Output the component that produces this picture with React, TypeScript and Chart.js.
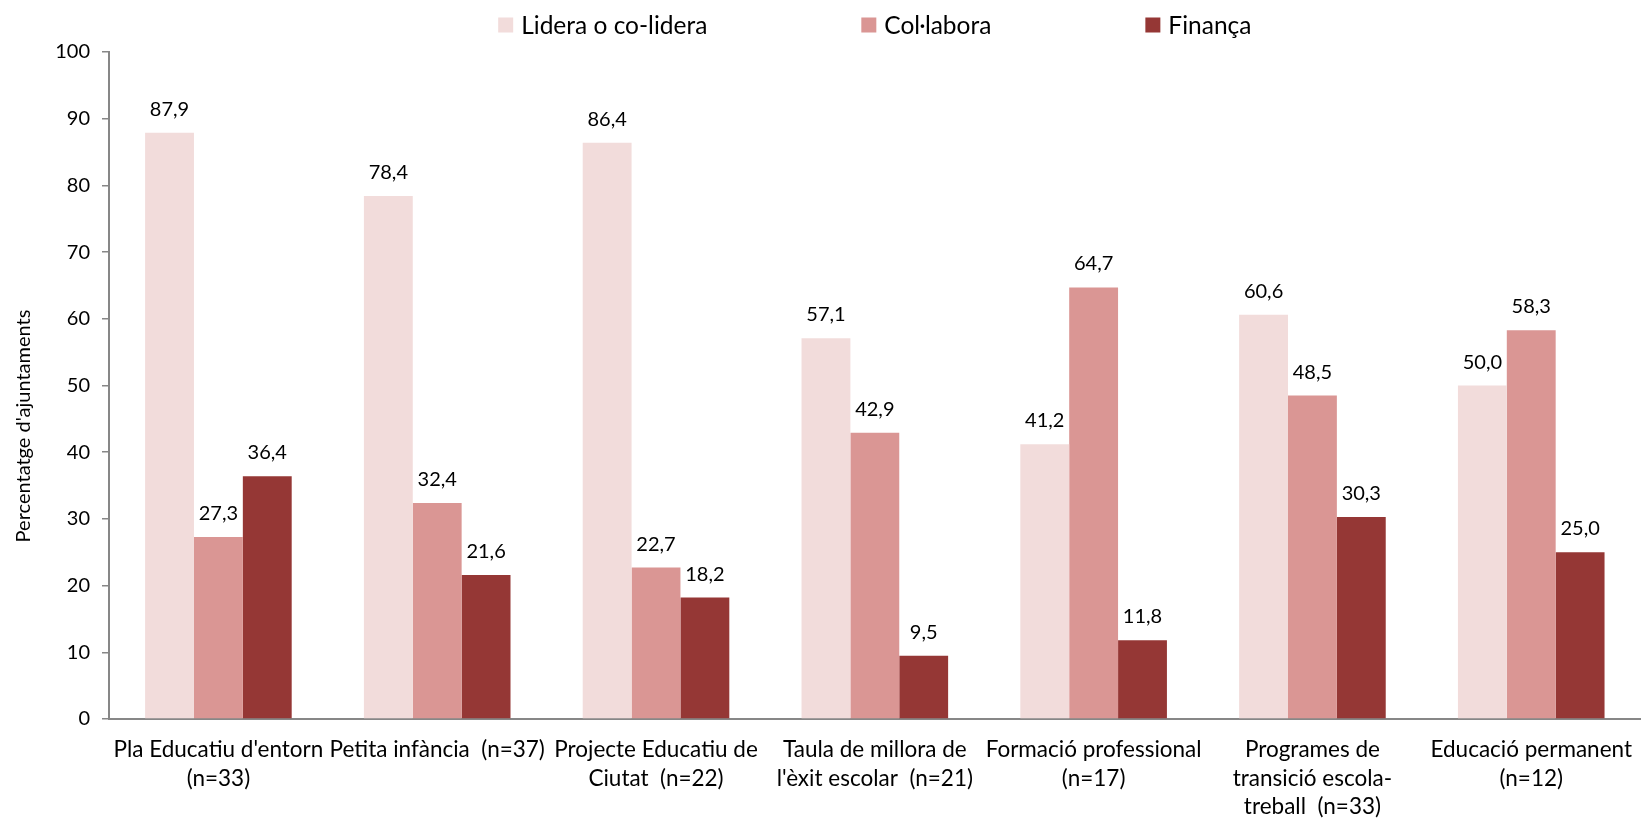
import React, { useEffect, useRef } from "react";
import { Chart, registerables } from "chart.js";

Chart.register(...registerables);

const categories: string[][] = [
  ["Pla Educatiu d'entorn", "(n=33)"],
  ["Petita infància  (n=37)"],
  ["Projecte Educatiu de", "Ciutat  (n=22)"],
  ["Taula de millora de", "l'èxit escolar  (n=21)"],
  ["Formació professional", "(n=17)"],
  ["Programes de", "transició escola-", "treball  (n=33)"],
  ["Educació permanent", "(n=12)"],
];
const seriesNames = ["Lidera o co-lidera", "Col·labora", "Finança"];
const lideraValues = [87.9, 78.4, 86.4, 57.1, 41.2, 60.6, 50.0];
const colaboraValues = [27.3, 32.4, 22.7, 42.9, 64.7, 48.5, 58.3];
const financaValues = [36.4, 21.6, 18.2, 9.5, 11.8, 30.3, 25.0];
const yMin = 0;
const yMax = 100;
const yStep = 10;
const yAxisTitle = "Percentatge d'ajuntaments";

const seriesColors = ["#F2DCDB", "#DA9694", "#953735"];
const FONT = "Lato, 'Open Sans', sans-serif";
const AXIS_GRAY = "#878787";

const formatValue = (v: number) => v.toFixed(1).replace(".", ",");

const dataLabelsPlugin = {
  id: "dataLabels",
  afterDatasetsDraw(chart: any) {
    const ctx = chart.ctx;
    ctx.save();
    ctx.font = `20px ${FONT}`;
    ctx.fillStyle = "#000";
    ctx.textAlign = "center";
    ctx.textBaseline = "alphabetic";
    chart.data.datasets.forEach((ds: any, di: number) => {
      const meta = chart.getDatasetMeta(di);
      meta.data.forEach((el: any, i: number) => {
        ctx.fillText(formatValue(ds.data[i]), el.x, el.y - 17);
      });
    });
    ctx.restore();
  },
};

const legendPlugin = {
  id: "customLegend",
  afterDraw(chart: any) {
    const ctx = chart.ctx;
    const area = chart.chartArea;
    ctx.save();
    ctx.font = `24.5px ${FONT}`;
    ctx.textBaseline = "middle";
    ctx.textAlign = "left";
    const box = 15;
    const gapBoxText = 8;
    const gapItems = 154;
    const items = chart.data.datasets.map((ds: any) => ({
      label: ds.label,
      color: ds.backgroundColor,
      w: box + gapBoxText + ctx.measureText(ds.label).width,
    }));
    const total =
      items.reduce((s: number, it: any) => s + it.w, 0) + gapItems * (items.length - 1);
    let x = (area.left + Math.min(area.right, chart.width)) / 2 - total / 2;
    const cy = 25;
    items.forEach((it: any) => {
      ctx.fillStyle = it.color;
      ctx.fillRect(x, cy - box / 2, box, box);
      ctx.fillStyle = "#000";
      ctx.fillText(it.label, x + box + gapBoxText, cy + 1);
      x += it.w + gapItems;
    });
    ctx.restore();
  },
};

const yTitlePlugin = {
  id: "yTitle",
  afterDraw(chart: any) {
    const ctx = chart.ctx;
    const area = chart.chartArea;
    ctx.save();
    ctx.font = `20px ${FONT}`;
    ctx.fillStyle = "#000";
    ctx.textAlign = "center";
    ctx.textBaseline = "middle";
    ctx.translate(24, area.top + 374);
    ctx.rotate(-Math.PI / 2);
    ctx.fillText(yAxisTitle, 0, 0);
    ctx.restore();
  },
};

export default function App() {
  const canvasRef = useRef<HTMLCanvasElement | null>(null);

  useEffect(() => {
    document.body.style.margin = "0";
    const canvas = canvasRef.current;
    if (!canvas) return;
    const chart = new Chart(canvas, {
      type: "bar",
      data: {
        labels: categories,
        datasets: [
          { label: seriesNames[0], data: lideraValues, backgroundColor: seriesColors[0] },
          { label: seriesNames[1], data: colaboraValues, backgroundColor: seriesColors[1] },
          { label: seriesNames[2], data: financaValues, backgroundColor: seriesColors[2] },
        ],
      },
      options: {
        responsive: false,
        animation: false,
        devicePixelRatio: 1,
        layout: { padding: { top: 52, right: -3, bottom: 0, left: 0 } },
        datasets: {
          bar: { categoryPercentage: 0.67, barPercentage: 1.0, borderWidth: 0 },
        },
        plugins: {
          legend: { display: false },
          tooltip: { enabled: false },
          title: { display: false },
        },
        scales: {
          x: {
            grid: { display: false },
            border: { display: true, color: AXIS_GRAY, width: 2 },
            ticks: {
              color: "#000",
              font: { family: FONT, size: 22.5, lineHeight: 1.26 },
              padding: 9,
              maxRotation: 0,
              minRotation: 0,
              autoSkip: false,
            },
            afterFit: (s: any) => {
              s.height = 100;
            },
          },
          y: {
            min: yMin,
            max: yMax,
            grid: {
              display: true,
              drawOnChartArea: false,
              drawTicks: true,
              tickLength: 7,
              color: AXIS_GRAY,
              lineWidth: 1.5,
            },
            border: { display: true, color: AXIS_GRAY, width: 2 },
            ticks: {
              stepSize: yStep,
              color: "#000",
              font: { family: FONT, size: 20 },
              padding: 12,
            },
            afterFit: (s: any) => {
              s.width = 109;
            },
          },
        },
      },
      plugins: [dataLabelsPlugin, legendPlugin, yTitlePlugin],
    });
    return () => chart.destroy();
  }, []);

  return (
    <div style={{ width: 1641, height: 819, background: "#fff" }}>
      <canvas ref={canvasRef} width={1641} height={819} />
    </div>
  );
}
